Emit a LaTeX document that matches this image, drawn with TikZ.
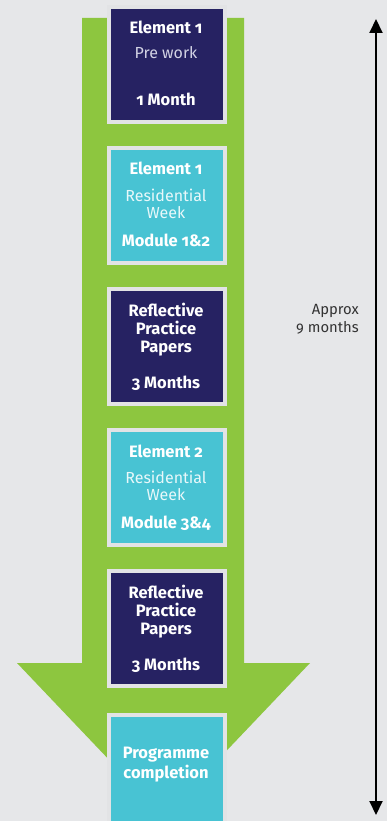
\documentclass[tikz,border=0pt]{standalone}
\usepackage{fontspec}
\setmainfont{Fira Sans}[Numbers=OldStyle]
\usetikzlibrary{arrows.meta}
\definecolor{bg}{HTML}{E6E7E9}
\definecolor{navy}{HTML}{262262}
\definecolor{cyanbox}{HTML}{48C3D3}
\definecolor{arrowgreen}{HTML}{8DC63F}
\definecolor{boxrim}{HTML}{E2E3E5}
\definecolor{lightnavytext}{HTML}{D2D2E4}
\definecolor{lightcyantext}{HTML}{E8F8FA}
\definecolor{sidetext}{HTML}{333333}
\tikzset{
  stagebox/.style={draw=boxrim, line width=4pt, minimum width=116pt, minimum height=115pt, inner sep=0pt},
  darkbox/.style={stagebox, fill=navy},
  lightbox/.style={stagebox, fill=cyanbox},
  boldtxt/.style={anchor=base, inner sep=0pt, text=white, font=\fontsize{16.5}{18}\selectfont\bfseries},
  thintxt/.style={anchor=base, inner sep=0pt, font=\fontsize{16}{18}\selectfont},
  sidetxt/.style={anchor=base east, inner sep=0pt, text=sidetext, font=\fontsize{14.8}{17}\selectfont},
}
\begin{document}
\begin{tikzpicture}[x=1pt,y=-1pt]
\fill[bg] (0,0) rectangle (387,821);
\useasboundingbox (0,0) rectangle (387,821);
\clip (0,0) rectangle (387,821);
% green arrow
\fill[arrowgreen] (82,18) -- (244,18) -- (244,663) -- (310,663) -- (163.5,817) -- (17,663) -- (82,663) -- cycle;
% boxes
\node[darkbox]  (b1) at (167,64.5) {};
\node[lightbox] (b2) at (167,205.5) {};
\node[darkbox]  (b3) at (167,346.5) {};
\node[lightbox] (b4) at (167,487.5) {};
\node[darkbox]  (b5) at (167,628.5) {};
\node[lightbox] (b6) at (167,772.5) {};
% box 1
\node[boldtxt] (t1a) at (166,34) {Element 1};
\node[thintxt, text=lightnavytext] (t1b) at (166,59) {Pre work};
\node[boldtxt] (t1c) at (166,106) {1 Month};
% box 2
\node[boldtxt] (t2a) at (166,175) {Element 1};
\node[thintxt, text=lightcyantext] (t2b) at (166,201) {Residential};
\node[thintxt, text=lightcyantext] (t2c) at (166,218) {Week};
\node[boldtxt] (t2d) at (166,246) {Module 1\&2};
% box 3
\node[boldtxt] (t3a) at (166,316) {Reflective};
\node[boldtxt] (t3b) at (166,334) {Practice};
\node[boldtxt] (t3c) at (166,352) {Papers};
\node[boldtxt] (t3d) at (166,388) {3 Months};
% box 4
\node[boldtxt] (t4a) at (166,457) {Element 2};
\node[thintxt, text=lightcyantext] (t4b) at (166,483) {Residential};
\node[thintxt, text=lightcyantext] (t4c) at (166,500) {Week};
\node[boldtxt] (t4d) at (166,528) {Module 3\&4};
% box 5
\node[boldtxt] (t5a) at (166,598) {Reflective};
\node[boldtxt] (t5b) at (166,616) {Practice};
\node[boldtxt] (t5c) at (166,634) {Papers};
\node[boldtxt] (t5d) at (166,670) {3 Months};
% box 6
\node[boldtxt] (t6a) at (166,758) {Programme};
\node[boldtxt] (t6b) at (166,778) {completion};
% side arrow
\coordinate (atop) at (376,19);
\coordinate (abot) at (376,815);
\draw[line width=2pt, {Triangle[length=14pt,width=13pt]}-{Triangle[length=14pt,width=13pt]}] (atop) -- (abot);
\node[sidetxt] (s1) at (359,314) {Approx};
\node[sidetxt] (s2) at (359,332) {9 months};
\end{tikzpicture}
\end{document}
